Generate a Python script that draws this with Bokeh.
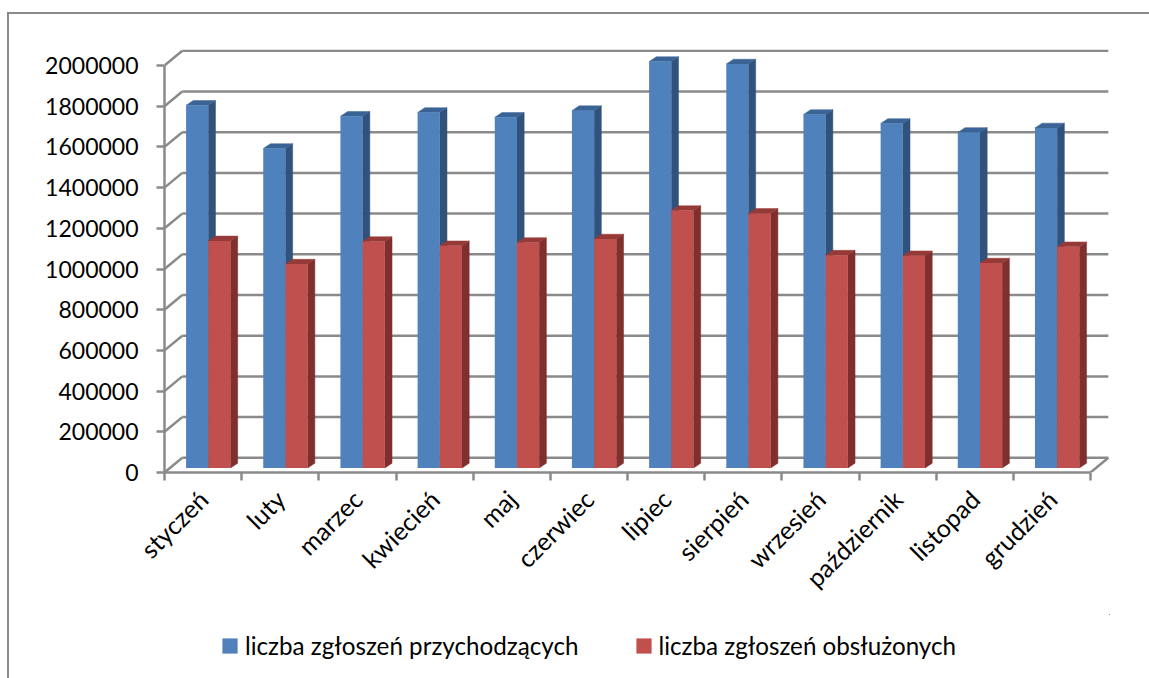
import math
from bokeh.plotting import figure
from bokeh.layouts import column
from bokeh.models import (FixedTicker, LinearAxis, Legend, LegendItem, Range1d,
                          BasicTickFormatter, AllLabels)
from bokeh.embed import file_html
from bokeh.resources import INLINE

months = ["styczeń", "luty", "marzec", "kwiecień", "maj", "czerwiec", "lipiec",
          "sierpień", "wrzesień", "październik", "listopad", "grudzień"]
received = [1782000, 1570000, 1728000, 1747000, 1723000, 1756000,
            1997000, 1985000, 1737000, 1693000, 1649000, 1671000]
handled = [1116000, 1002000, 1113000, 1092000, 1108000, 1125000,
           1265000, 1251000, 1046000, 1043000, 1007000, 1087000]
y_ticks = [0, 200000, 400000, 600000, 800000, 1000000, 1200000, 1400000,
           1600000, 1800000, 2000000]
series_names = ["liczba zgłoszeń przychodzących", "liczba zgłoszeń obsłużonych"]

FONT = "Lato"
GREY = "#8a8a8a"
BLUE, RED = "#4F81BD", "#C0504D"
PX_X = 77.17            # px per category
PX_Y = 407.0 / 2000000  # px per value
FRAME_W, FRAME_H = 945, 423
WALL_DX, WALL_DY = 17.8 / PX_X, 14.7 / PX_Y
BAR_DX, BAR_DY = 7.2 / PX_X, 4.8 / PX_Y
BASE = 4.5 / PX_Y
BAR_W = 22.2 / PX_X
BAR_SHIFT = 5.2 / PX_X

p = figure(width=1140, height=600, output_backend="svg", toolbar_location=None,
           x_range=Range1d(0, FRAME_W / PX_X), y_range=Range1d(0, FRAME_H / PX_Y),
           frame_width=FRAME_W, frame_height=FRAME_H,
           min_border_left=155, min_border_top=35, min_border_right=40, min_border_bottom=142,
           x_axis_type=None, y_axis_type=None, outline_line_color=None,
           background_fill_color="white", border_fill_color="white")
p.grid.visible = False

# Walls of the 3D box
n = len(months)
p.segment(x0=[0] * len(y_ticks), y0=y_ticks, x1=[WALL_DX] * len(y_ticks),
          y1=[v + WALL_DY for v in y_ticks], line_color=GREY, line_width=2.5)
p.segment(x0=[WALL_DX] * len(y_ticks), y0=[v + WALL_DY for v in y_ticks],
          x1=[n + WALL_DX] * len(y_ticks), y1=[v + WALL_DY for v in y_ticks],
          line_color=GREY, line_width=2.5)
p.segment(x0=[n], y0=[0], x1=[n + WALL_DX], y1=[WALL_DY], line_color=GREY, line_width=2.5)


def bars(values, offset, front, side, top):
    lefts = [i + 0.5 + BAR_SHIFT + offset for i in range(n)]
    rights = [x + BAR_W for x in lefts]
    tops = [v + BASE for v in values]   # the 3D floor of the bars lies above the front axis
    p.patches([[r, r + BAR_DX, r + BAR_DX, r] for r in rights],
              [[BASE, BASE + BAR_DY, t + BAR_DY, t] for t in tops],
              fill_color=side, line_color=side, line_width=0.5)
    p.patches([[l, l + BAR_DX, r + BAR_DX, r] for l, r in zip(lefts, rights)],
              [[t, t + BAR_DY, t + BAR_DY, t] for t in tops],
              fill_color=top, line_color=top, line_width=0.5)
    p.vbar(x=[l + BAR_W / 2 for l in lefts], top=tops, bottom=BASE, width=BAR_W,
           fill_color=front, line_color=None)


bars(received, -BAR_W, BLUE, "#31527A", "#3A6496")
bars(handled, 0, RED, "#7F2F2D", "#963A38")

# Axes
yaxis = LinearAxis(ticker=FixedTicker(ticks=y_ticks), bounds=(0, 2000000),
                   formatter=BasicTickFormatter(use_scientific=False),
                   axis_line_color=GREY, axis_line_width=2.5,
                   major_tick_line_color=GREY, major_tick_line_width=2.5,
                   major_tick_in=0, major_tick_out=8, minor_tick_line_color=None,
                   major_label_text_font=FONT, major_label_text_font_size="23px",
                   major_label_text_color="black", major_label_standoff=18)
p.add_layout(yaxis, "left")

centers = [i + 0.5 for i in range(n)]
xaxis = LinearAxis(ticker=FixedTicker(ticks=centers, minor_ticks=list(range(n + 1))),
                   bounds=(0, n),
                   major_label_overrides=dict(zip(centers, months)),
                   major_label_policy=AllLabels(),
                   major_label_orientation=math.pi / 4,
                   axis_line_color=GREY, axis_line_width=2.5,
                   major_tick_line_color=None, major_tick_in=0, major_tick_out=8,
                   minor_tick_line_color=GREY, minor_tick_line_width=2.5,
                   minor_tick_in=0, minor_tick_out=8,
                   major_label_text_font=FONT, major_label_text_font_size="25px",
                   major_label_text_color="black", major_label_standoff=14)
p.add_layout(xaxis, "below")

# Legend strip: its own small figure, whose frame holds the legend without clipping.
# The bars here sit far outside the visible range; only their legend swatches show.
lf = figure(width=1140, height=64, output_backend="svg", toolbar_location=None,
            x_range=Range1d(-2000, -1000), y_range=Range1d(-2e7, -1e7),
            min_border_left=0, min_border_right=0, min_border_top=0, min_border_bottom=0,
            x_axis_type=None, y_axis_type=None, outline_line_color=None,
            background_fill_color="white", border_fill_color="white")
lf.grid.visible = False
r1 = lf.vbar(x=centers, top=received, bottom=BASE, width=BAR_W, fill_color=BLUE, line_color=None)
r2 = lf.vbar(x=centers, top=handled, bottom=BASE, width=BAR_W, fill_color=RED, line_color=None)
legend = Legend(items=[LegendItem(label=series_names[0], renderers=[r1]),
                       LegendItem(label=series_names[1], renderers=[r2])],
                orientation="horizontal", location=(56, 18), padding=0, margin=0,
                spacing=55, glyph_width=19, glyph_height=19, label_standoff=6,
                border_line_color=None, background_fill_alpha=0,
                label_text_font=FONT, label_text_font_size="24.2px",
                label_text_color="black", label_height=19)
lf.add_layout(legend, "center")

page = column(p, lf, spacing=0, margin=(12, 0, 0, 7),
              styles={"border-left": f"2px solid {GREY}", "border-top": f"2px solid {GREY}"})

open("out.html", "w").write(file_html(page, INLINE))
